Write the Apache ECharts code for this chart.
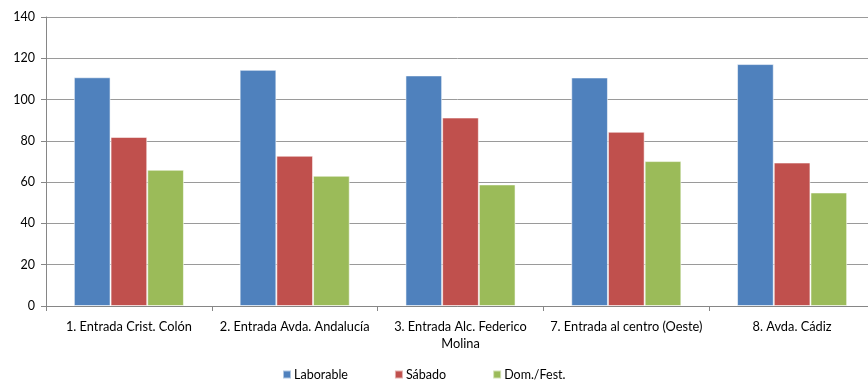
<!DOCTYPE html>
<html>
<head>
<meta charset="utf-8">
<script src="https://cdn.jsdelivr.net/npm/echarts@6/dist/echarts.min.js"></script>
<style>
html,body{margin:0;padding:0;background:#fff;}
#chart{width:868px;height:381px;}
</style>
</head>
<body>
<div id="chart"></div>
<script>
var categories = ["1. Entrada Crist. Colón", "2. Entrada Avda. Andalucía", "3. Entrada Alc. Federico Molina", "7. Entrada al centro (Oeste)", "8. Avda. Cádiz"];
var laborable = [110.8, 114.4, 111.7, 110.7, 117.2];
var sabado = [81.9, 72.8, 91.3, 84.4, 69.5];
var domFest = [66.0, 63.1, 58.9, 70.2, 55.0];
var seriesNames = ["Laborable", "Sábado", "Dom./Fest."];
var yTicks = { min: 0, max: 140, interval: 20 };

var FONT = 'Lato';
var XFS = 12.8;
var measureCtx = document.createElement('canvas').getContext('2d');
measureCtx.font = XFS + 'px ' + FONT;
function wrapLabel(text, maxW) {
  var words = text.split(' '), lines = [], cur = '';
  words.forEach(function (w) {
    var t = cur ? cur + ' ' + w : w;
    if (cur && measureCtx.measureText(t).width > maxW) { lines.push(cur); cur = w; }
    else cur = t;
  });
  if (cur) lines.push(cur);
  return lines.join('\n');
}

var chart = echarts.init(document.getElementById('chart'), null, { renderer: 'canvas' });
function barSeries(name, data, color) {
  return {
    name: name, type: 'bar', data: data,
    barGap: '0%', barCategoryGap: '33.6%',
    itemStyle: { color: color, borderColor: 'rgba(255,255,255,0.55)', borderWidth: 1 },
    animation: false
  };
}
chart.setOption({
  animation: false,
  textStyle: { fontFamily: FONT },
  grid: { left: 46, width: 829, top: 17, height: 289, containLabel: false, outerBoundsMode: 'none' },
  legend: {
    left: 282, top: 368, padding: 0,
    itemWidth: 8, itemHeight: 8, itemGap: 46,
    icon: 'rect',
    textStyle: { fontFamily: FONT, fontSize: 12.5, color: '#000', padding: [0, 0, 0, -2] },
    data: seriesNames
  },
  xAxis: {
    type: 'category', data: categories,
    axisLine: { lineStyle: { color: '#868686', width: 1 } },
    axisTick: { show: true, length: 5, lineStyle: { color: '#868686' } },
    axisLabel: {
      interval: 0, margin: 12, fontFamily: FONT, fontSize: XFS, color: '#000',
      lineHeight: 17,
      formatter: function (v) { return wrapLabel(v, 158); }
    },
    splitLine: { show: false }
  },
  yAxis: {
    type: 'value', min: yTicks.min, max: yTicks.max, interval: yTicks.interval,
    axisLine: { show: true, lineStyle: { color: '#868686', width: 1 } },
    axisTick: { show: true, length: 5, lineStyle: { color: '#868686' } },
    axisLabel: { margin: 11, fontFamily: FONT, fontSize: 12.5, color: '#000' },
    splitLine: { show: true, lineStyle: { color: '#9a9a9a', width: 1 } }
  },
  series: [
    barSeries(seriesNames[0], laborable, '#4F81BD'),
    barSeries(seriesNames[1], sabado, '#C0504D'),
    barSeries(seriesNames[2], domFest, '#9BBB59')
  ]
});
</script>
</body>
</html>
